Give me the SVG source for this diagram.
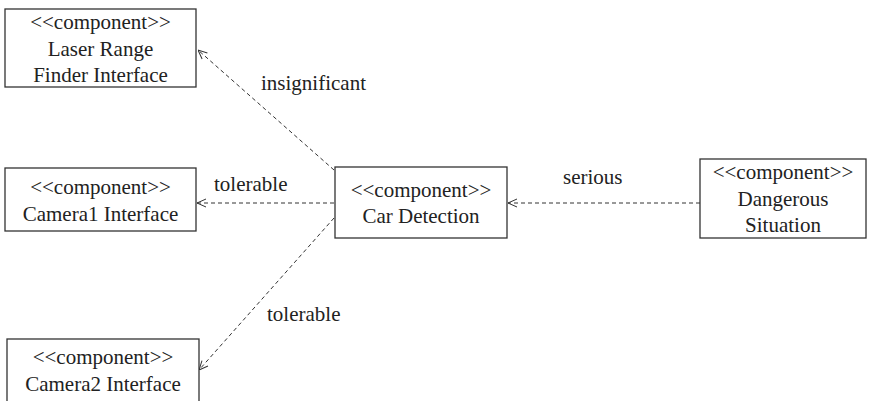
<svg xmlns="http://www.w3.org/2000/svg" width="870" height="401" viewBox="0 0 870 401">
  <style>
    .box { fill: #ffffff; stroke: #333333; stroke-width: 1.3; }
    .txt { font-family: "Liberation Serif", "Times New Roman", serif; font-size: 21px; fill: #222222; }
    .mid { text-anchor: middle; }
    .dep { fill: none; stroke: #333333; stroke-width: 1; stroke-dasharray: 4 3; marker-end: url(#open); }
  </style>
  <defs>
    <marker id="open" viewBox="0 0 10 10" refX="10" refY="5" markerWidth="10" markerHeight="10" markerUnits="userSpaceOnUse" orient="auto">
      <path d="M1,1 L10,5 L1,9" fill="none" stroke="#333333" stroke-width="1"/>
    </marker>
  </defs>

  <g id="connectors">
    <line class="dep" x1="334" y1="170" x2="198" y2="50"/>
    <line class="dep" x1="334" y1="203" x2="197" y2="203"/>
    <line class="dep" x1="334" y1="218" x2="199" y2="370"/>
    <line class="dep" x1="700" y1="203" x2="508" y2="203"/>
    <text class="txt" x="261" y="90">insignificant</text>
    <text class="txt" x="214" y="191">tolerable</text>
    <text class="txt" x="267" y="321">tolerable</text>
    <text class="txt" x="563" y="184">serious</text>
  </g>

  <g id="laser-range-finder-interface">
    <rect class="box" x="5" y="9" width="191" height="78"/>
    <text class="txt mid" x="100.5" y="29">&lt;&lt;component&gt;&gt;</text>
    <text class="txt mid" x="100.5" y="56">Laser Range</text>
    <text class="txt mid" x="100.5" y="82">Finder Interface</text>
  </g>

  <g id="camera1-interface">
    <rect class="box" x="5" y="168" width="191" height="63"/>
    <text class="txt mid" x="100.5" y="194">&lt;&lt;component&gt;&gt;</text>
    <text class="txt mid" x="100.5" y="221">Camera1 Interface</text>
  </g>

  <g id="camera2-interface">
    <rect class="box" x="7" y="339" width="192" height="70"/>
    <text class="txt mid" x="103" y="364">&lt;&lt;component&gt;&gt;</text>
    <text class="txt mid" x="103" y="391">Camera2 Interface</text>
  </g>

  <g id="car-detection">
    <rect class="box" x="335" y="167" width="172" height="71"/>
    <text class="txt mid" x="421" y="197">&lt;&lt;component&gt;&gt;</text>
    <text class="txt mid" x="421" y="223">Car Detection</text>
  </g>

  <g id="dangerous-situation">
    <rect class="box" x="700" y="159" width="166" height="79"/>
    <text class="txt mid" x="783" y="179">&lt;&lt;component&gt;&gt;</text>
    <text class="txt mid" x="783" y="206">Dangerous</text>
    <text class="txt mid" x="783" y="232">Situation</text>
  </g>
</svg>
